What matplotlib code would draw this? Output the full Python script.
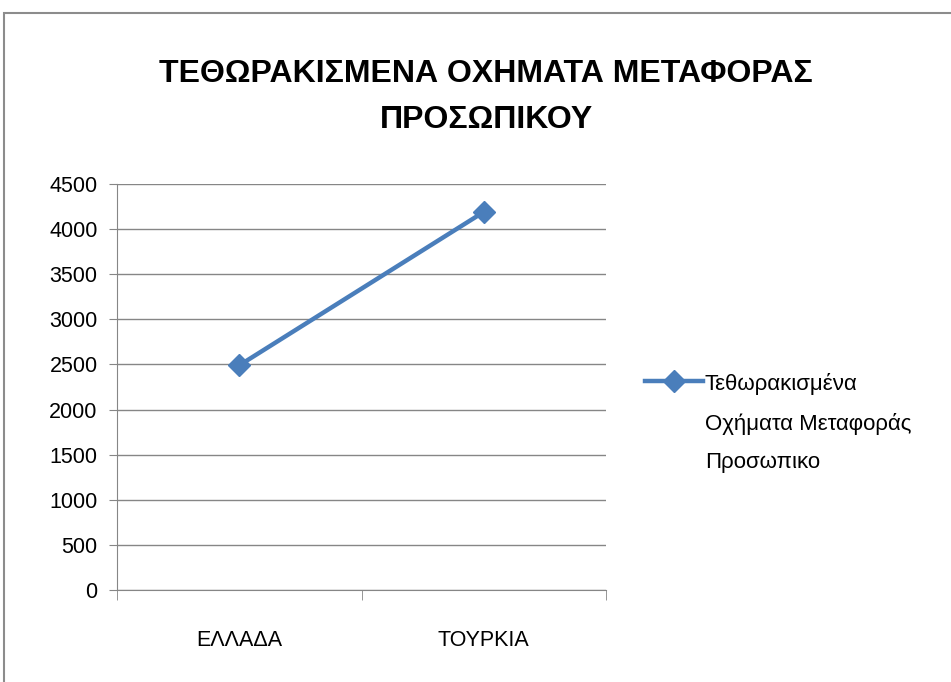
import matplotlib
matplotlib.use("Agg")
import matplotlib.pyplot as plt
from matplotlib.patches import Rectangle

categories = ["ΕΛΛΑΔΑ", "ΤΟΥΡΚΙΑ"]
values = [2490, 4190]
yticks = [0, 500, 1000, 1500, 2000, 2500, 3000, 3500, 4000, 4500]
series_name = "Τεθωρακισμένα\nΟχήματα Μεταφοράς\nΠροσωπικο"
title = "ΤΕΘΩΡΑΚΙΣΜΕΝΑ ΟΧΗΜΑΤΑ ΜΕΤΑΦΟΡΑΣ\nΠΡΟΣΩΠΙΚΟΥ"

fam = ["Liberation Sans Narrow", "Liberation Sans", "DejaVu Sans"]
plt.rcParams['font.family'] = fam

fig = plt.figure(figsize=(9.51, 6.82), dpi=100)
fig.patches.append(Rectangle((4/951, -0.1), 1.2, (682-13)/682 + 0.1, transform=fig.transFigure,
                             fill=False, edgecolor="#8c8c8c", linewidth=1.5))

ax = fig.add_axes([117/951, 92/682, 489/951, 406/682])
x = list(range(len(categories)))
ax.plot(x, values, color="#4A7EBB", linewidth=3.2, marker="D", markersize=11,
        label=series_name)
ax.set_xlim(-0.5, len(categories) - 0.5)
ax.set_ylim(0, 4500)
ax.set_yticks(yticks)
ax.set_yticklabels([str(v) for v in yticks], fontsize=15.5)
ax.set_xticks(x)
ax.set_xticklabels(categories, fontsize=15.5)
ax.tick_params(axis="x", length=0, pad=29)
ax.tick_params(axis="y", length=6, color="#868686", pad=8)
ax.set_xticks([-0.5, 0.5, 1.5], minor=True)
ax.tick_params(axis="x", which="minor", length=7, color="#868686")
ax.grid(axis="y", color="#868686", linewidth=1)
ax.set_axisbelow(True)
for s in ["top", "right"]:
    ax.spines[s].set_visible(False)
ax.spines["left"].set_color("#868686")
ax.spines["bottom"].set_color("#868686")

fig.text(486/951, 1 - 97/682, title, ha="center", va="center", fontsize=23,
         fontweight="bold", linespacing=1.7)

leg = fig.legend(loc="upper left", bbox_to_anchor=(636/951, 1 - 364/682), frameon=False,
                 fontsize=16, handlelength=2.6, handletextpad=0.1, borderaxespad=0)
for t in leg.get_texts():
    t.set_linespacing(2.05)
# align legend handle with the first text line
for col in leg._legend_handle_box.get_children():
    for row in col.get_children():
        row.align = "top"

fig.savefig("out.png", dpi=100)
